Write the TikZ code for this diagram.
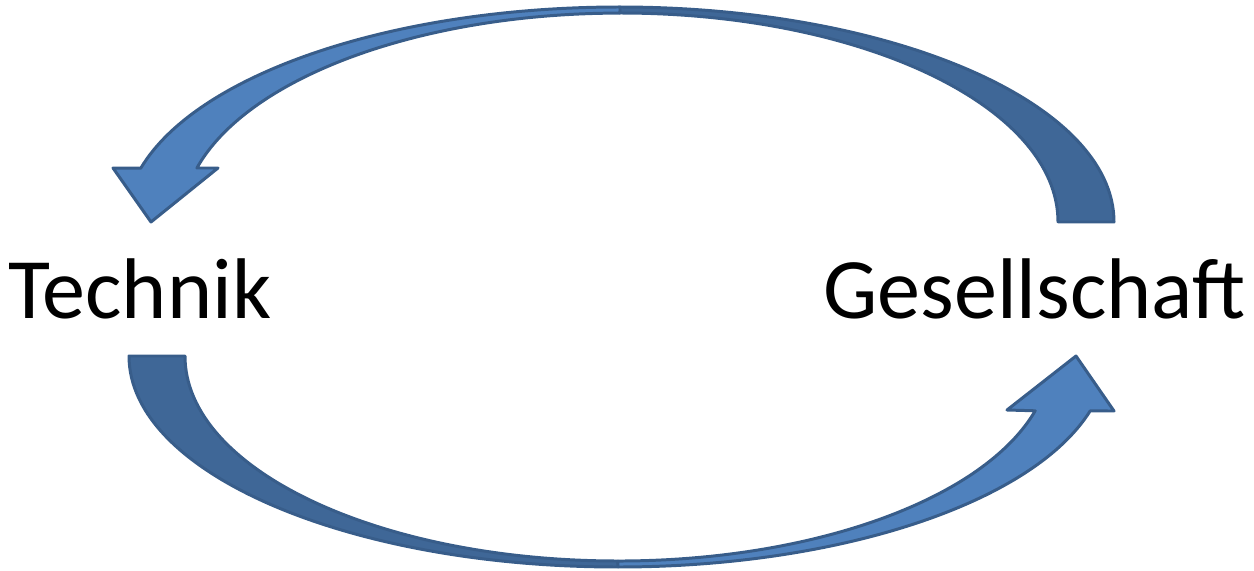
\documentclass[tikz,border=0pt]{standalone}
\usepackage{fontspec}
\setmainfont{Carlito}
\usepackage{tikz}
\usetikzlibrary{positioning}
\definecolor{facelight}{HTML}{4F81BD}
\definecolor{facedark}{HTML}{3F6797}
\definecolor{faceline}{HTML}{385D8A}

\begin{document}
\begin{tikzpicture}[x=0.02cm, y=-0.02cm,
    frontface/.style={fill=facelight, draw=faceline, line width=1.7pt, line join=round},
    backface/.style={fill=facedark, draw=faceline, line width=1.7pt, line join=round},
    termtext/.style={font=\fontsize{49}{58}\selectfont, inner sep=0pt}]
    \useasboundingbox (0,0) rectangle (1254,571);

    % upper arrow: Gesellschaft -> Technik
    \draw[backface] (1114,222) arc[start angle=0, end angle=-90, x radius=495, y radius=215]
        -- (620,13) arc[start angle=-90, end angle=0, x radius=438, y radius=209] -- cycle;
    \draw[frontface] (620,7) arc[start angle=-90, end angle=-165.5, x radius=495, y radius=215]
        -- (113,168) -- (151,222) -- (218,168) -- (196.9,168)
        arc[start angle=-165, end angle=-90, x radius=438, y radius=209] -- cycle;

    % lower arrow: Technik -> Gesellschaft
    \draw[backface] (129,356) arc[start angle=180, end angle=90, x radius=489, y radius=211]
        -- (618,561) arc[start angle=90, end angle=180, x radius=433, y radius=205] -- cycle;
    \draw[frontface] (618,567) arc[start angle=90, end angle=15.1, x radius=489, y radius=211]
        -- (1114,411) -- (1076,356) -- (1007,410) -- (1035.2,410.8)
        arc[start angle=15.5, end angle=90, x radius=433, y radius=205] -- cycle;

    \node[termtext, anchor=base west] (technik) at (8,318) {Technik};
    \node[termtext, anchor=base east] (gesellschaft) at (1246,318) {Gesellschaft};
\end{tikzpicture}
\end{document}
